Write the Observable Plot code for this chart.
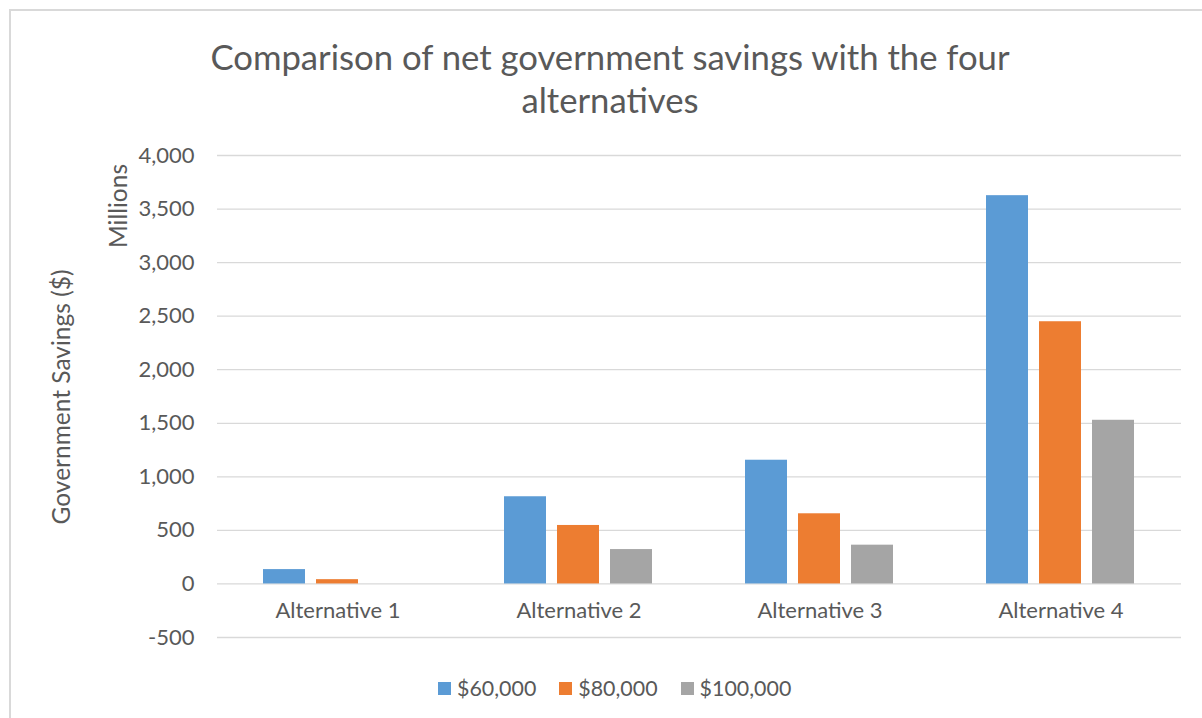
<!DOCTYPE html>
<html>
<head>
<meta charset="utf-8">
<script src="https://cdn.jsdelivr.net/npm/d3@7"></script>
<script src="https://cdn.jsdelivr.net/npm/@observablehq/plot@0.6"></script>
<style>
  html, body { margin: 0; padding: 0; background: #fff; width: 1202px; height: 718px; overflow: hidden; position: relative; font-family: Lato, "Open Sans", sans-serif; color: #595959; }
  #frame { position: absolute; left: 9px; top: 9px; width: 1300px; height: 800px; border: 2px solid #d9d9d9; box-sizing: border-box; }
  #title { position: absolute; left: 0; top: 35px; width: 1220px; text-align: center; font-size: 34.7px; line-height: 43px; }
  #chart { position: absolute; left: 0; top: 0; }
  .ylab { position: absolute; font-size: 24.5px; white-space: nowrap; transform: translate(-50%, -50%) rotate(-90deg); }
  #legend { position: absolute; left: 438px; top: 676px; display: flex; align-items: center; font-size: 21.4px; line-height: 24px; }
  .item { display: flex; align-items: center; margin-right: 23px; }
  .sw { width: 13px; height: 13px; margin-right: 6px; }
</style>
</head>
<body>
<div id="frame"></div>
<div id="title">Comparison of net government savings with the four<br>alternatives</div>
<div id="chart"></div>
<div class="ylab" style="left:60px; top:397px;">Government Savings ($)</div>
<div class="ylab" style="left:117px; top:206px;">Millions</div>
<div id="legend"></div>
<script>
const categories = ["Alternative 1", "Alternative 2", "Alternative 3", "Alternative 4"];
const series = ["$60,000", "$80,000", "$100,000"];
const values60 = [134, 814, 1155, 3625];
const values80 = [40, 546, 655, 2448];
const values100 = [0, 321, 362, 1528];
const yTicks = [-500, 0, 500, 1000, 1500, 2000, 2500, 3000, 3500, 4000];
const colors = ["#5B9BD5", "#ED7D31", "#A5A5A5"];

const seriesValues = [values60, values80, values100];
const data = [];
categories.forEach((c, i) => {
  series.forEach((s, j) => data.push({category: c, series: s, value: seriesValues[j][i]}));
});

const fmt = d => d.toLocaleString("en-US");

const chart = Plot.plot({
  width: 1202,
  height: 660,
  marginTop: 155,
  marginBottom: 23,
  marginLeft: 217,
  marginRight: 21,
  style: { fontFamily: "Lato, 'Open Sans', sans-serif", fontSize: "22px", color: "#595959", background: "transparent", overflow: "visible" },
  fx: { domain: categories, padding: 0, axis: null, label: null },
  x: { domain: series, paddingInner: 0.2075, paddingOuter: 0.877, axis: null, label: null },
  y: { domain: [-500, 4000], label: null },
  color: { domain: series, range: colors },
  marks: [
    Plot.gridY(yTicks, { stroke: "#d9d9d9", strokeOpacity: 1, strokeWidth: 1.3 }),
    Plot.axisY(yTicks, { tickSize: 0, tickPadding: 23, tickFormat: fmt, label: null, fontSize: 22 }),
    Plot.barY(data, { fx: "category", x: "series", y: "value", fill: "series" }),
    Plot.text(categories, { fx: d => d, text: d => d, frameAnchor: "bottom", dy: -20, fontSize: 22, fill: "#595959" })
  ]
});
document.getElementById("chart").appendChild(chart);

const legend = document.getElementById("legend");
series.forEach((s, i) => {
  const item = document.createElement("div");
  item.className = "item";
  const sw = document.createElement("div");
  sw.className = "sw";
  sw.style.background = colors[i];
  const t = document.createElement("span");
  t.textContent = s;
  item.appendChild(sw);
  item.appendChild(t);
  legend.appendChild(item);
});
</script>
</body>
</html>
